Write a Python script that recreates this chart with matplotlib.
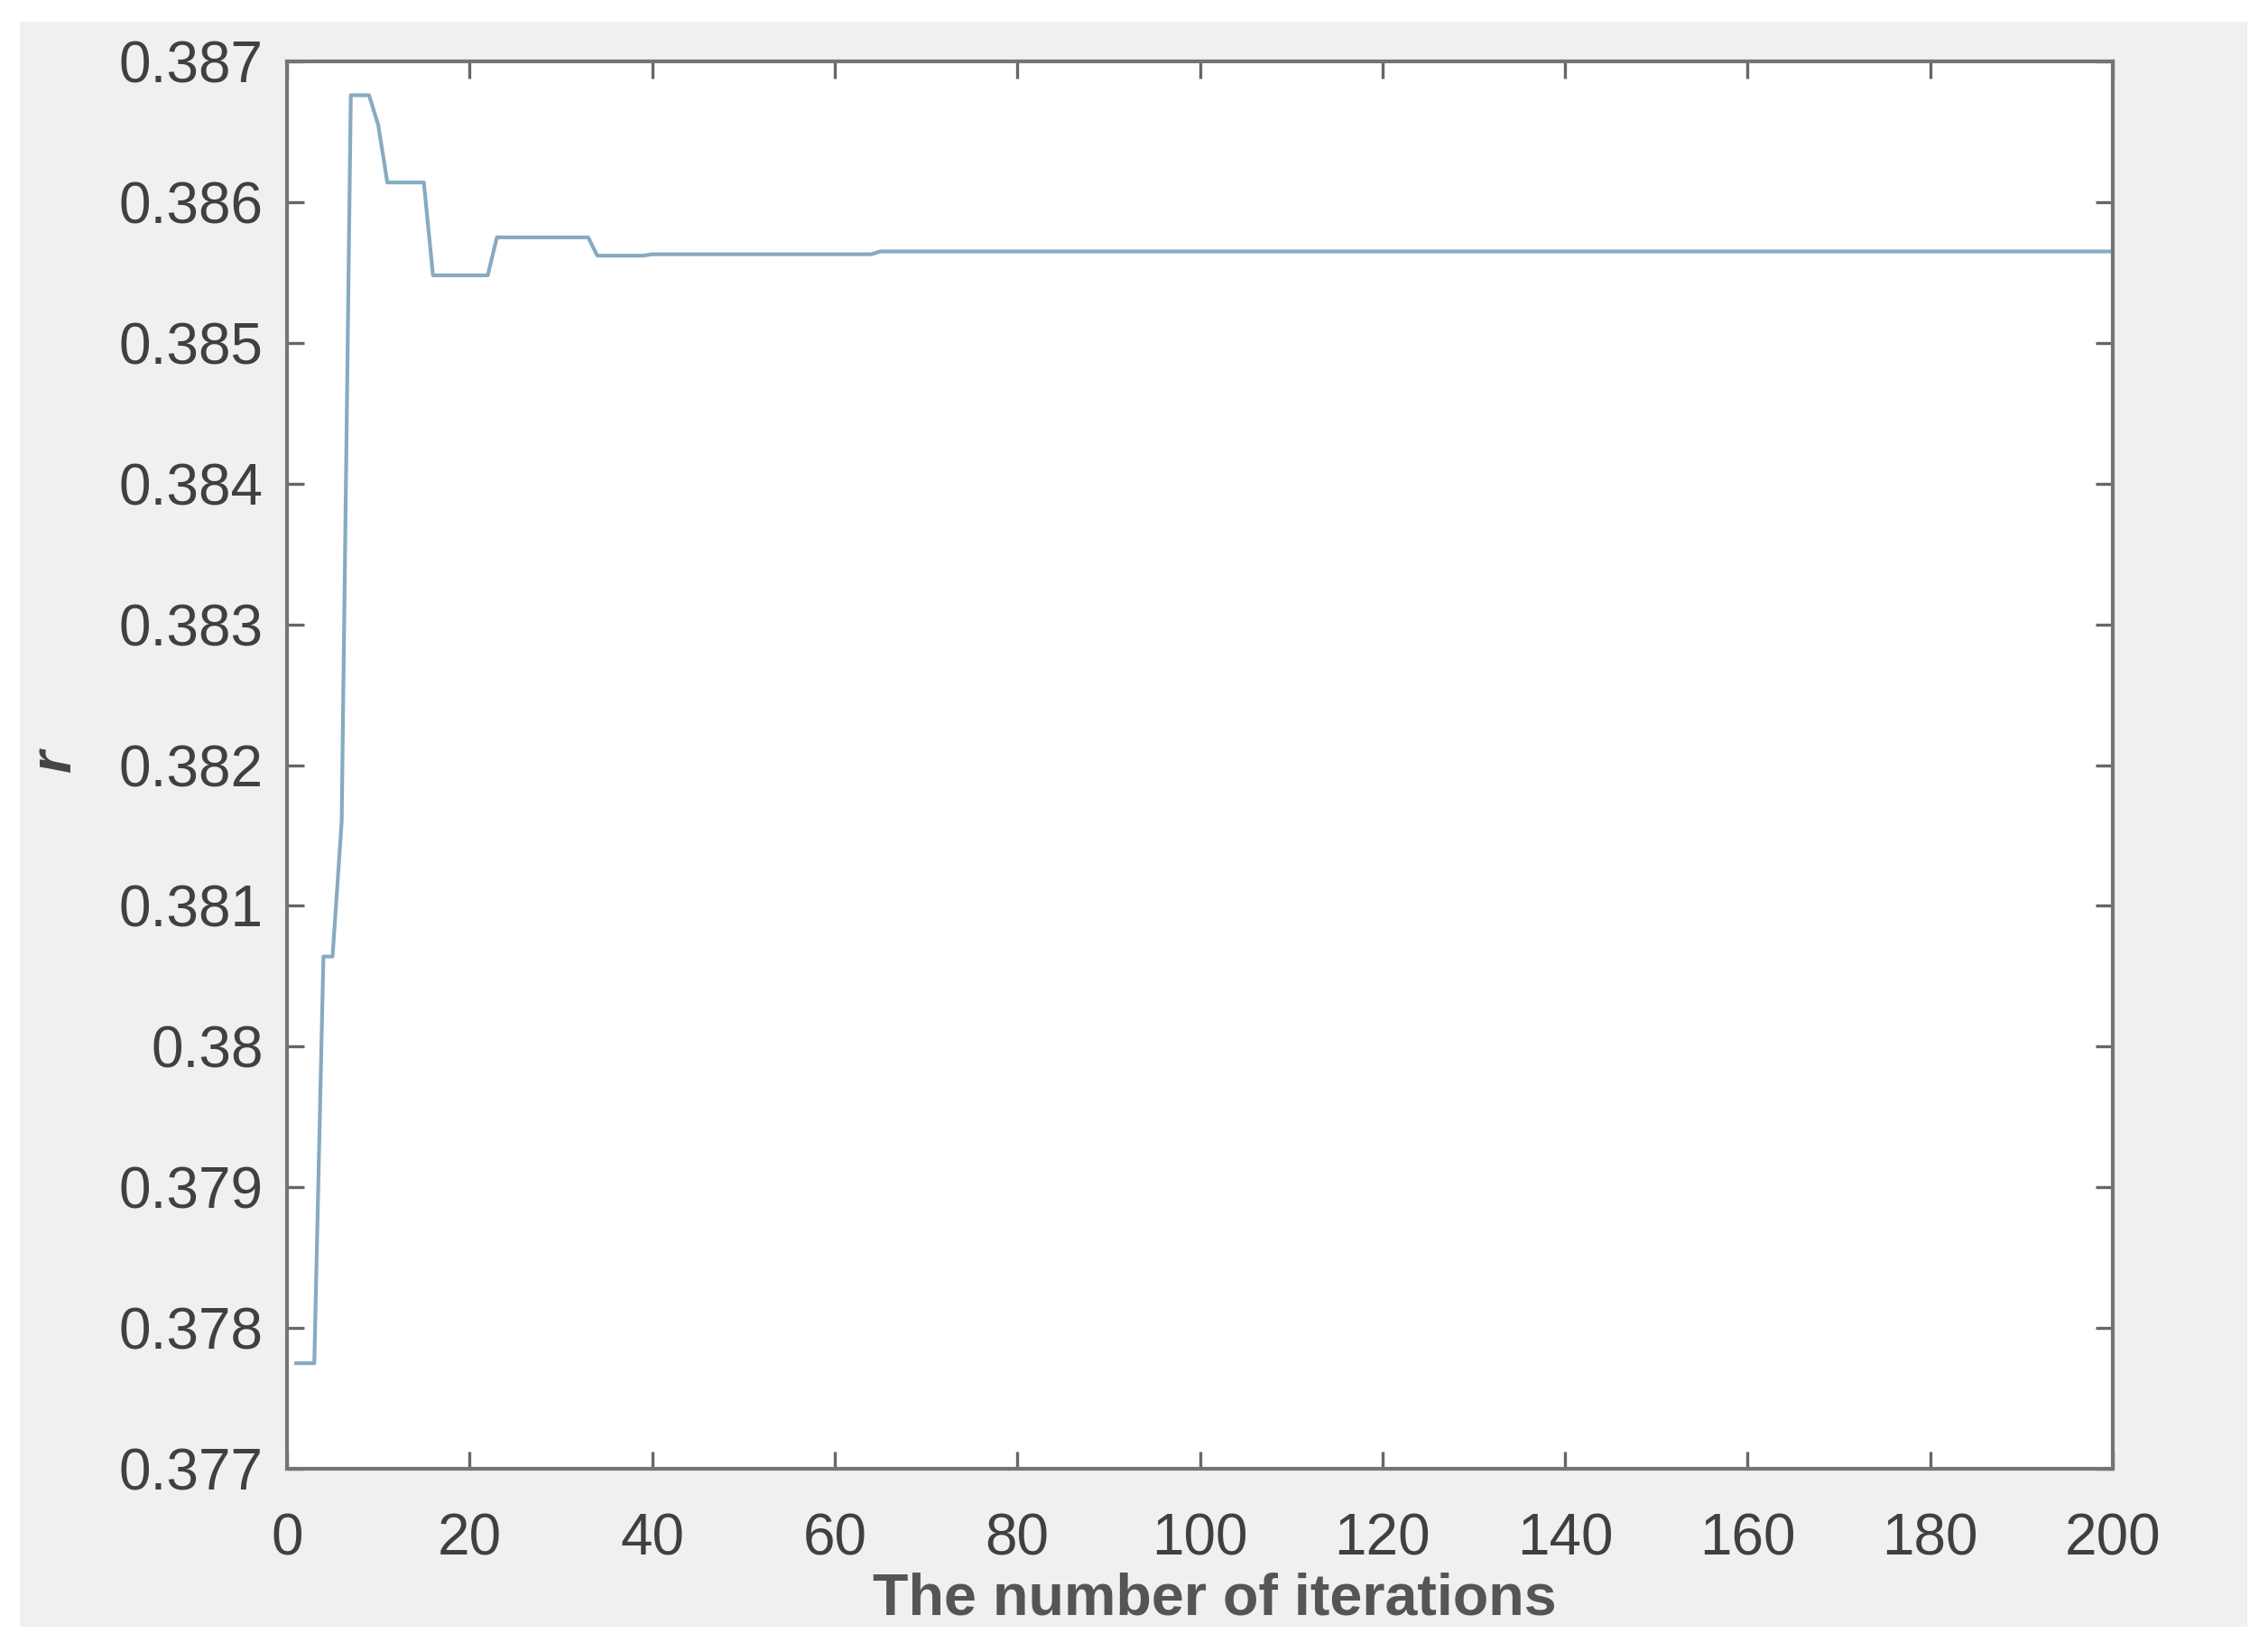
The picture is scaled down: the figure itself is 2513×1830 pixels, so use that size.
import numpy as np
import matplotlib
matplotlib.use('Agg')
import matplotlib.pyplot as plt
from matplotlib.patches import Rectangle

plt.rcParams['font.family'] = ['Liberation Sans', 'DejaVu Sans']

# 折线的拐点 (迭代次数, r 值)
iters = [1, 3, 4, 5, 6, 7, 9, 10, 11, 15, 16, 22, 23, 33, 34, 39, 40, 64, 65, 200]
r_vals = [0.37775, 0.37775, 0.38064, 0.38064, 0.38160, 0.38676, 0.38676, 0.38655,
          0.38614, 0.38614, 0.38548, 0.38548, 0.38575, 0.38575, 0.38562, 0.38562,
          0.38563, 0.38563, 0.38565, 0.38565]

x_ticks = [0, 20, 40, 60, 80, 100, 120, 140, 160, 180, 200]
y_ticks = [0.377, 0.378, 0.379, 0.38, 0.381, 0.382, 0.383, 0.384, 0.385, 0.386, 0.387]
y_labels = ['0.377', '0.378', '0.379', '0.38', '0.381', '0.382', '0.383', '0.384',
            '0.385', '0.386', '0.387']

fig = plt.figure(figsize=(25.13, 18.30), dpi=100, facecolor='white')
# 灰色底板
fig.patches.append(Rectangle((0.00875, 0.0153), 0.982, 0.9716, transform=fig.transFigure,
                             facecolor='#f0f0f0', edgecolor='none', zorder=-10))

ax = fig.add_axes([0.1265, 0.1109, 0.8051, 0.8519])
ax.set_facecolor('white')
ax.plot(iters, r_vals, color='#86abc2', linewidth=3.0)

ax.set_xlim(0, 200)
ax.set_ylim(0.377, 0.387)
ax.set_xticks(x_ticks)
ax.set_yticks(y_ticks)
ax.set_yticklabels(y_labels)

for s in ax.spines.values():
    s.set_color('#747474')
    s.set_linewidth(3.0)
ax.tick_params(direction='in', length=14, width=2.4, color='#666666',
               top=True, right=True, labelsize=46, labelcolor='#404040')
ax.tick_params(axis='x', pad=35)
ax.tick_params(axis='y', pad=19)

ax.set_xlabel('The number of iterations', fontsize=46.5, fontweight='bold',
              color='#555555', labelpad=4)
ax.xaxis.label.set_x(0.508)
fig.text(61 / 2513, 1 - 843 / 1830, 'r', fontsize=46, fontstyle='italic',
         fontweight='bold', color='#444444', rotation=90, ha='center', va='center')

fig.savefig('out.png', dpi=100, facecolor=fig.get_facecolor())
